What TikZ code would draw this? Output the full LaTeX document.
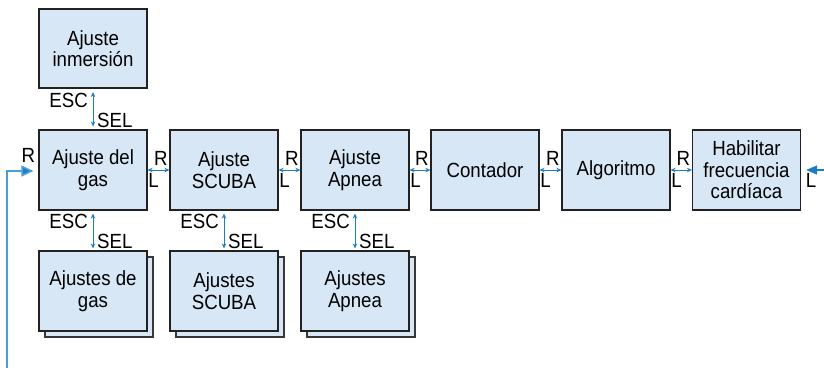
\documentclass[tikz,border=0pt]{standalone}
\usepackage{fontspec}
\setmainfont{Liberation Sans}[FakeStretch=0.91]
\usetikzlibrary{arrows.meta,calc,shadows}
\definecolor{boxfill}{HTML}{D7E7F5}
\definecolor{boxline}{HTML}{222222}
\definecolor{arrblue}{HTML}{1C7DC4}
\definecolor{lightblue}{HTML}{4A9FDA}
\begin{document}
\begin{tikzpicture}[x=1pt,y=-1pt,
  every node/.style={font=\fontsize{20.5}{21.5}\selectfont},
  blk/.style={draw=boxline,fill=boxfill,line width=1.2pt,minimum width=108pt,minimum height=80pt,align=center,inner sep=2pt},
  stackblk/.style={blk,copy shadow={shadow xshift=6pt,shadow yshift=-6pt,draw=boxline!90,fill=boxfill}},
  lbl/.style={inner sep=0pt},
  dbl/.style={draw=arrblue,line width=0.9pt,{Stealth[length=5pt,width=4.5pt]}-{Stealth[length=5pt,width=4.5pt]}}
]
\useasboundingbox (0,0) rectangle (824,368);

\node[blk,minimum height=79pt] (inm) at (93,48.5) {Ajuste\\inmersión};
\node[blk] (gas) at (93,170) {Ajuste del\\gas};
\node[blk] (scuba) at (224,170) {Ajuste\\SCUBA};
\node[blk] (apnea) at (355,170) {Ajuste\\Apnea};
\node[blk] (cont) at (485,170) {Contador};
\node[blk] (alg) at (616,170) {Algoritmo};
\node[blk] (hab) at (746.5,170) {Habilitar\\frecuencia\\cardíaca};

\node[stackblk] (sgas) at (93,291) {Ajustes de\\gas};
\node[stackblk] (sscuba) at (224,291) {Ajustes\\SCUBA};
\node[stackblk] (sapnea) at (355,291) {Ajustes\\Apnea};

% horizontal links
\foreach \a/\b in {gas/scuba,scuba/apnea,apnea/cont,cont/alg,alg/hab}{
  \draw[dbl] (\a.east) -- (\b.west);
  \node[lbl,anchor=base east] at ($(\b.west)+(-1.5,-5)$) {R};
  \node[lbl,anchor=base west] at ($(\a.east)+(0.5,17.5)$) {L};
}

% vertical links
\draw[dbl,shorten <=3.5pt,shorten >=3pt] (inm.south) -- (gas.north);
\node[lbl,anchor=base east] at ($(inm.south)+(-5,19)$) {ESC};
\node[lbl,anchor=base west] at ($(inm.south)+(4,39)$) {SEL};
\foreach \a/\b in {gas/sgas,scuba/sscuba,apnea/sapnea}{
  \draw[dbl,shorten <=3pt,shorten >=2pt] (\a.south) -- (\b.north);
  \node[lbl,anchor=base east] at ($(\a.south)+(-5,18)$) {ESC};
  \node[lbl,anchor=base west] at ($(\a.south)+(4,38)$) {SEL};
}

% return arrow on the left
\coordinate (retstart) at (7,368);
\draw[lightblue,line width=1.6pt,-{Triangle[length=12pt,width=11pt,fill=arrblue]}]
  (retstart) |- ($(gas.west)+(-5,1)$);
\node[lbl,anchor=base east] at ($(gas.west)+(-3,-8)$) {R};

% incoming arrow on the right
\coordinate (inright) at (824,170);
\draw[arrblue,line width=1.4pt,-{Triangle[length=11pt,width=9pt]}]
  (inright) -- ($(hab.east)+(5,0)$);
\node[lbl,anchor=base west] at ($(hab.east)+(4.5,17.5)$) {L};
\end{tikzpicture}
\end{document}
